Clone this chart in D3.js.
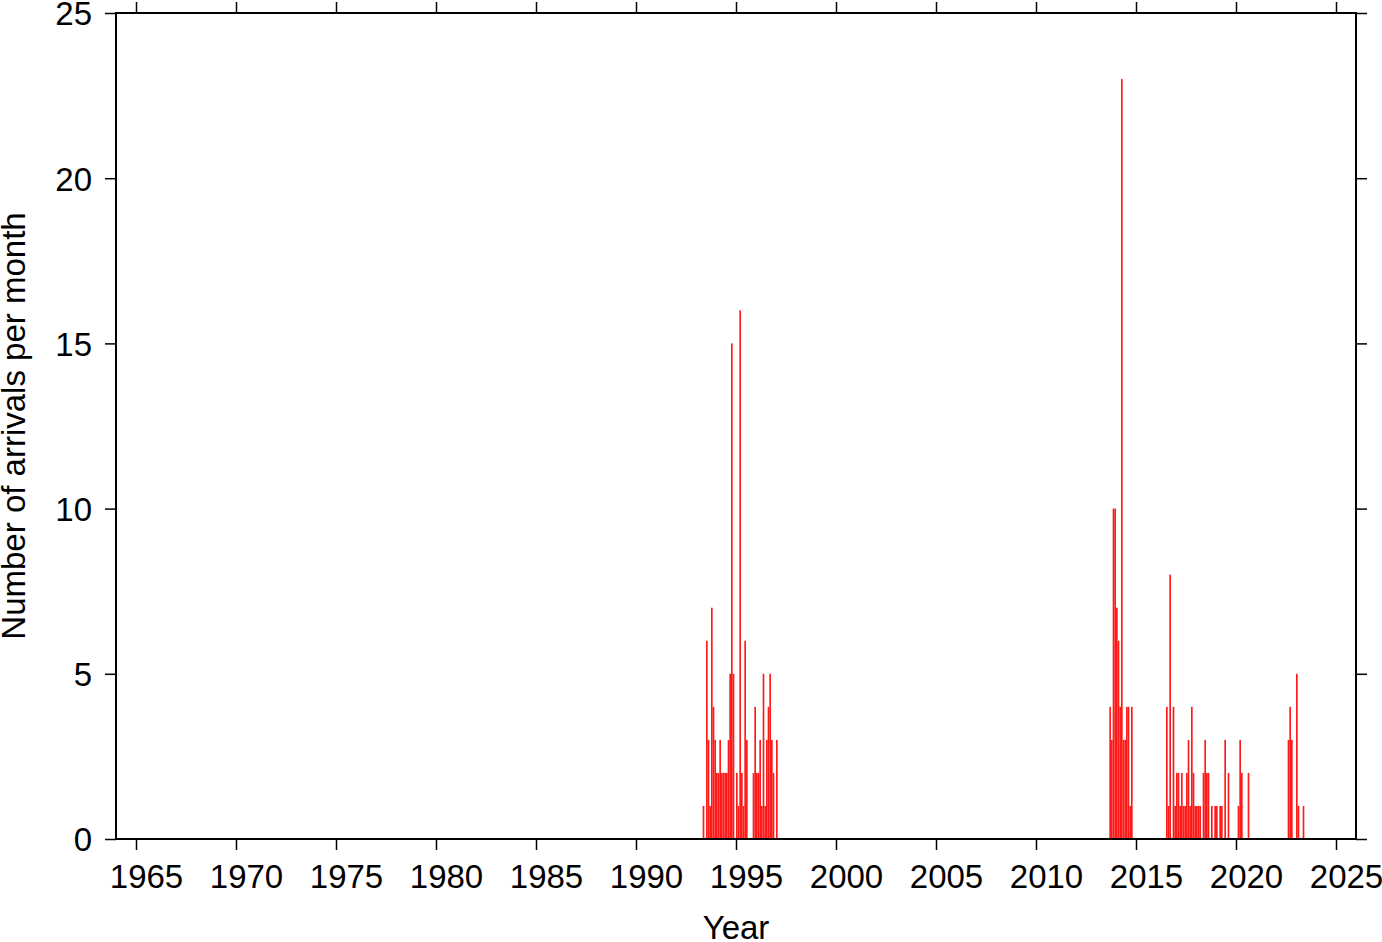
<!DOCTYPE html>
<html>
<head>
<meta charset="utf-8">
<script src="https://cdn.jsdelivr.net/npm/d3@7"></script>
<style>
  html, body { margin: 0; padding: 0; background: #fff; }
  svg { display: block; }
  text { font-family: "Liberation Sans", Arial, Helvetica, sans-serif; }
</style>
</head>
<body>
<svg id="chart" width="1382" height="942"></svg>
<script>
// ---- data: monthly arrival counts (months with zero arrivals omitted) ----
const months = [
  "1993-05","1993-07","1993-08","1993-09","1993-10","1993-11","1993-12",
  "1994-01","1994-02","1994-03","1994-04","1994-05","1994-06","1994-07","1994-08","1994-09","1994-10","1994-11",
  "1995-01","1995-02","1995-03","1995-04","1995-05","1995-06","1995-07","1995-11","1995-12",
  "1996-01","1996-02","1996-03","1996-04","1996-05","1996-06","1996-07","1996-08","1996-09","1996-10","1996-11",
  "1997-01",
  "2013-09","2013-10","2013-11","2013-12",
  "2014-01","2014-02","2014-03","2014-04","2014-05","2014-06","2014-07","2014-08","2014-09","2014-10",
  "2016-07","2016-08","2016-09","2016-11","2016-12",
  "2017-01","2017-02","2017-03","2017-04","2017-05","2017-06","2017-07","2017-08","2017-09","2017-10","2017-11","2017-12",
  "2018-01","2018-02","2018-03","2018-05","2018-06","2018-07","2018-08","2018-10","2018-12",
  "2019-01","2019-03","2019-04","2019-06","2019-08",
  "2020-02","2020-03","2020-04","2020-08",
  "2022-08","2022-09","2022-10",
  "2023-01","2023-02","2023-05"
];
const counts = [
  1,6,3,1,7,4,3,
  2,2,3,2,2,2,2,3,5,15,5,
  2,1,16,2,1,6,3,2,4,
  2,2,3,1,5,1,3,4,5,3,2,
  3,
  4,3,10,10,
  7,6,4,23,3,3,4,4,1,4,
  4,1,8,4,1,
  2,2,1,2,1,1,2,3,1,4,2,1,
  1,1,1,2,3,2,2,1,1,
  1,1,1,3,2,
  1,3,2,2,
  3,4,3,
  5,1,1
];
const xTicks = [1965,1970,1975,1980,1985,1990,1995,2000,2005,2010,2015,2020,2025];
const yTicks = [0,5,10,15,20,25];
const xDomain = [1964, 2026];
const yDomain = [0, 25];

// ---- layout ----
const L = 116, R = 1356, T = 13, B = 839;
const tickLen = 11;
const fontSize = 33;

const svg = d3.select("#chart");
const x = d3.scaleLinear().domain(xDomain).range([L, R]);
const y = d3.scaleLinear().domain(yDomain).range([B, T]);

const data = months.map((m, i) => {
  const [yr, mo] = m.split("-").map(Number);
  return { t: yr + (mo - 1) / 12, v: counts[i] };
});
const monthW = x(xDomain[0] + 1 / 12) - x(xDomain[0]);

// bars
svg.append("g")
  .selectAll("rect")
  .data(data)
  .join("rect")
  .attr("x", d => x(d.t))
  .attr("width", monthW)
  .attr("y", d => y(d.v))
  .attr("height", d => y(0) - y(d.v))
  .attr("fill", "#ff1a1a");

// axes (ticks outward on all four sides)
function styleAxis(g) {
  g.select(".domain").remove();
  g.selectAll(".tick line").attr("stroke", "#000").attr("stroke-width", 1.5);
}
const axBottom = svg.append("g").attr("transform", `translate(0,${B})`)
  .call(d3.axisBottom(x).tickValues(xTicks).tickSize(tickLen).tickFormat(d3.format("d")));
styleAxis(axBottom);
// year labels sit at the middle of the year interval
axBottom.selectAll(".tick text")
  .attr("font-size", fontSize)
  .attr("fill", "#000")
  .attr("y", 49)
  .attr("dy", 0)
  .attr("x", x(1965.5) - x(1965));

const axTop = svg.append("g").attr("transform", `translate(0,${T})`)
  .call(d3.axisTop(x).tickValues(xTicks).tickSize(tickLen).tickFormat(""));
styleAxis(axTop);

const axLeft = svg.append("g").attr("transform", `translate(${L},0)`)
  .call(d3.axisLeft(y).tickValues(yTicks).tickSize(tickLen).tickFormat(d3.format("d")));
styleAxis(axLeft);
axLeft.selectAll(".tick text")
  .attr("font-size", fontSize)
  .attr("fill", "#000")
  .attr("x", -24)
  .attr("dy", "0.36em");

const axRight = svg.append("g").attr("transform", `translate(${R},0)`)
  .call(d3.axisRight(y).tickValues(yTicks).tickSize(tickLen).tickFormat(""));
styleAxis(axRight);

// frame
svg.append("rect")
  .attr("x", L).attr("y", T)
  .attr("width", R - L).attr("height", B - T)
  .attr("fill", "none").attr("stroke", "#000").attr("stroke-width", 2);

// axis titles
svg.append("text")
  .attr("x", (L + R) / 2).attr("y", 939)
  .attr("text-anchor", "middle")
  .attr("font-size", fontSize)
  .attr("fill", "#000")
  .text("Year");

svg.append("text")
  .attr("transform", `translate(25,${(T + B) / 2}) rotate(-90)`)
  .attr("text-anchor", "middle")
  .attr("font-size", fontSize)
  .attr("fill", "#000")
  .text("Number of arrivals per month");
</script>
</body>
</html>
